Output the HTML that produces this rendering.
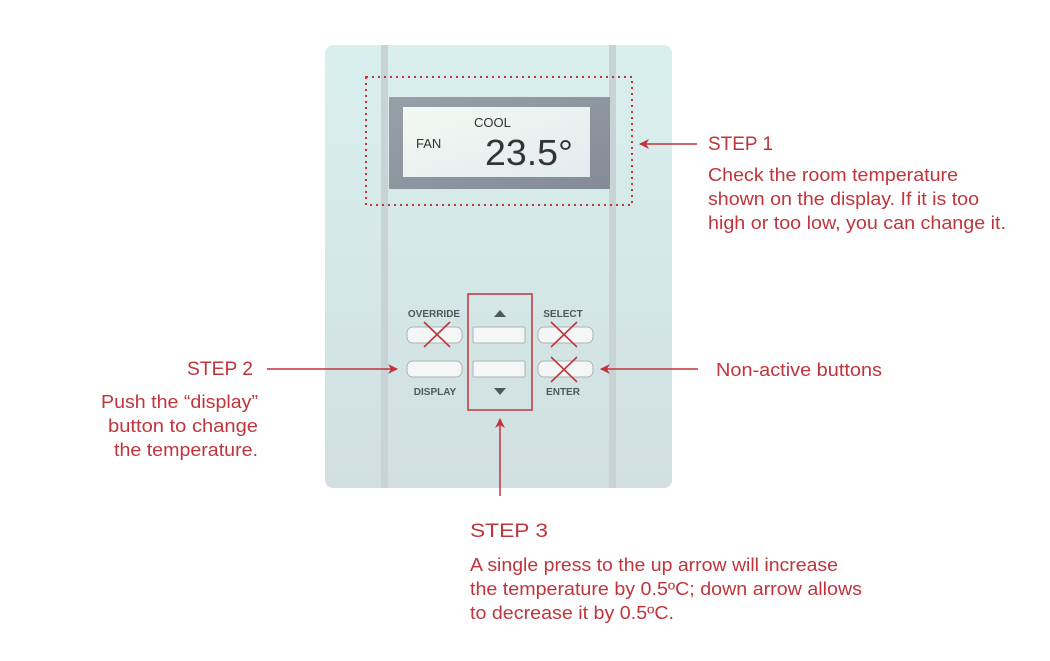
<!DOCTYPE html>
<html><head><meta charset="utf-8"><style>
html,body{margin:0;padding:0;background:#fff;width:1050px;height:661px;overflow:hidden}
svg{display:block}
text{font-family:"Liberation Sans",sans-serif}
</style></head><body>
<svg width="1050" height="661" viewBox="0 0 1050 661">
<defs>
<linearGradient id="pg" x1="0" y1="0" x2="0" y2="1"><stop offset="0" stop-color="#d9efee"/><stop offset="1" stop-color="#d1dfe0"/></linearGradient>
<linearGradient id="lcd" x1="0" y1="0" x2="1" y2="1"><stop offset="0" stop-color="#f4f8f2"/><stop offset="1" stop-color="#e2ebee"/></linearGradient>
<linearGradient id="bz" x1="0" y1="0" x2="1" y2="1"><stop offset="0" stop-color="#97a0a9"/><stop offset="1" stop-color="#848b96"/></linearGradient>
<marker id="ah" viewBox="0 0 10 10" refX="9" refY="5" markerWidth="14" markerHeight="10" markerUnits="userSpaceOnUse" orient="auto"><path d="M0,0 L10,5 L0,10 L3,5 z" fill="#c0343c"/></marker>
</defs>
<rect x="325" y="45" width="347" height="443" rx="8" fill="url(#pg)"/>
<rect x="381" y="45" width="7" height="443" fill="#c7d3d4"/>
<rect x="609" y="45" width="7" height="443" fill="#c7d3d4"/>
<rect x="389" y="97" width="221" height="92" fill="url(#bz)"/>
<rect x="403" y="107" width="187" height="70" fill="url(#lcd)"/>
<text x="474" y="127" font-size="13" fill="#333">COOL</text>
<text x="416" y="148" font-size="13" fill="#333">FAN</text>
<text x="485" y="165" font-size="36" fill="#333" textLength="88" lengthAdjust="spacingAndGlyphs">23.5°</text>
<rect x="366" y="77" width="266" height="128" fill="none" stroke="#c0343c" stroke-width="2" stroke-dasharray="2 4"/>
<g font-size="10" font-weight="bold" fill="#4a5960" text-anchor="middle">
<text x="434" y="317">OVERRIDE</text><text x="563" y="317">SELECT</text>
<text x="435" y="395">DISPLAY</text><text x="563" y="395">ENTER</text>
</g>
<g fill="#f3f6f5" stroke="#aab4b8" stroke-width="1">
<rect x="407" y="327" width="55" height="16" rx="6"/><rect x="473" y="327" width="52" height="16" rx="1"/><rect x="538" y="327" width="55" height="16" rx="6"/>
<rect x="407" y="361" width="55" height="16" rx="6"/><rect x="473" y="361" width="52" height="16" rx="1"/><rect x="538" y="361" width="55" height="16" rx="6"/>
</g>
<path d="M494,317 L506,317 L500,310 z" fill="#4a5960"/>
<path d="M494,388 L506,388 L500,395 z" fill="#4a5960"/>
<g stroke="#c0343c" stroke-width="1.6">
<path d="M424,322 L450,347 M450,322 L424,347"/>
<path d="M551,322 L577,347 M577,322 L551,347"/>
<path d="M551,357 L577,382 M577,357 L551,382"/>
</g>
<rect x="468" y="294" width="64" height="116" fill="none" stroke="#c0343c" stroke-width="1.5"/>
<g stroke="#c0343c" stroke-width="1.5" fill="none">
<line x1="697" y1="144" x2="640" y2="144" marker-end="url(#ah)"/>
<line x1="267" y1="369" x2="397" y2="369" marker-end="url(#ah)"/>
<line x1="698" y1="369" x2="601" y2="369" marker-end="url(#ah)"/>
<line x1="500" y1="496" x2="500" y2="419" marker-end="url(#ah)"/>
</g>
<g fill="#c0343c" font-size="18" lengthAdjust="spacingAndGlyphs">
<text x="708" y="150" font-size="19" textLength="65" lengthAdjust="spacingAndGlyphs">STEP 1</text>
<text x="708" y="181" textLength="250" lengthAdjust="spacingAndGlyphs">Check the room temperature</text>
<text x="708" y="205" textLength="271" lengthAdjust="spacingAndGlyphs">shown on the display. If it is too</text>
<text x="708" y="229" textLength="298" lengthAdjust="spacingAndGlyphs">high or too low, you can change it.</text>
<text x="187" y="375" font-size="19" textLength="66" lengthAdjust="spacingAndGlyphs">STEP 2</text>
<text x="101" y="408" textLength="157" lengthAdjust="spacingAndGlyphs">Push the “display”</text>
<text x="108" y="432" textLength="150" lengthAdjust="spacingAndGlyphs">button to change</text>
<text x="114" y="456" textLength="144" lengthAdjust="spacingAndGlyphs">the temperature.</text>
<text x="716" y="376" textLength="166" lengthAdjust="spacingAndGlyphs">Non-active buttons</text>
<text x="470" y="537" font-size="19" textLength="78" lengthAdjust="spacingAndGlyphs">STEP 3</text>
<text x="470" y="571" textLength="368" lengthAdjust="spacingAndGlyphs">A single press to the up arrow will increase</text>
<text x="470" y="595" textLength="392" lengthAdjust="spacingAndGlyphs">the temperature by 0.5ºC; down arrow allows</text>
<text x="470" y="619" textLength="204" lengthAdjust="spacingAndGlyphs">to decrease it by 0.5ºC.</text>
</g>
</svg>
</body></html>
